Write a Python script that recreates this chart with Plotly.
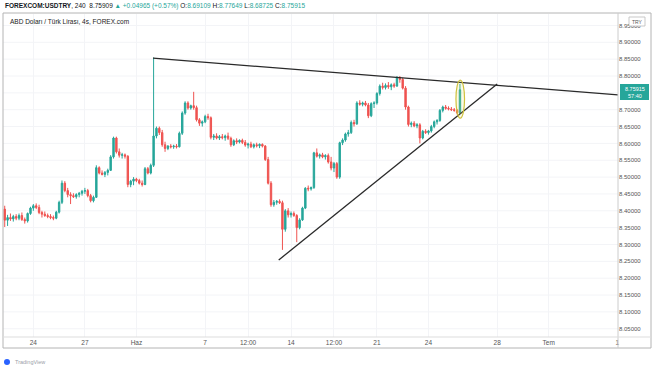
import plotly.graph_objects as go

# ---------------- data ----------------
bar_index = list(range(-10, 150))

opens = [
    8.405, 8.372, 8.380, 8.376, 8.383, 8.378, 8.386, 8.374, 8.370, 8.392,
    8.408, 8.415, 8.410, 8.395, 8.390, 8.386, 8.383, 8.380, 8.378, 8.396,
    8.425, 8.482, 8.460, 8.448, 8.445, 8.442, 8.448, 8.452, 8.458, 8.460,
    8.445, 8.430, 8.440, 8.528, 8.512, 8.508, 8.514, 8.520, 8.560, 8.616,
    8.575, 8.565, 8.566, 8.562, 8.478, 8.488, 8.494, 8.490, 8.482, 8.478,
    8.525, 8.512, 8.535, 8.622, 8.645, 8.632, 8.596, 8.585, 8.592, 8.590,
    8.592, 8.590, 8.630, 8.690, 8.720, 8.705, 8.712, 8.706, 8.670, 8.660,
    8.664, 8.680, 8.676, 8.618, 8.622, 8.616, 8.620, 8.617, 8.622, 8.615,
    8.596, 8.608, 8.604, 8.609, 8.603, 8.595, 8.598, 8.590, 8.596, 8.593,
    8.597, 8.592, 8.552, 8.482, 8.418, 8.425, 8.428, 8.424, 8.345, 8.400,
    8.388, 8.392, 8.386, 8.350, 8.373, 8.408, 8.467, 8.465, 8.469, 8.572,
    8.562, 8.566, 8.560, 8.564, 8.545, 8.527, 8.540, 8.500, 8.602, 8.610,
    8.628, 8.632, 8.662, 8.658, 8.720, 8.716, 8.720, 8.714, 8.682, 8.718,
    8.720, 8.748, 8.770, 8.766, 8.772, 8.768, 8.774, 8.770, 8.795, 8.790,
    8.764, 8.708, 8.656, 8.660, 8.652, 8.655, 8.616, 8.636, 8.632, 8.637,
    8.650, 8.664, 8.668, 8.698, 8.708, 8.704, 8.702, 8.700, 8.698, 8.69109,
]
highs = [
    8.415, 8.388, 8.392, 8.388, 8.390, 8.392, 8.395, 8.380, 8.395, 8.412,
    8.420, 8.422, 8.418, 8.400, 8.398, 8.392, 8.390, 8.386, 8.400, 8.430,
    8.490, 8.488, 8.468, 8.455, 8.452, 8.452, 8.456, 8.462, 8.468, 8.465,
    8.450, 8.445, 8.535, 8.532, 8.520, 8.518, 8.525, 8.565, 8.620, 8.620,
    8.585, 8.572, 8.570, 8.565, 8.492, 8.500, 8.498, 8.495, 8.490, 8.530,
    8.530, 8.540, 8.855, 8.650, 8.650, 8.640, 8.605, 8.595, 8.598, 8.596,
    8.598, 8.635, 8.695, 8.725, 8.725, 8.715, 8.753, 8.712, 8.675, 8.668,
    8.685, 8.688, 8.680, 8.628, 8.630, 8.625, 8.628, 8.626, 8.632, 8.620,
    8.612, 8.615, 8.612, 8.614, 8.610, 8.602, 8.605, 8.600, 8.602, 8.600,
    8.600, 8.595, 8.560, 8.488, 8.432, 8.432, 8.434, 8.430, 8.405, 8.408,
    8.398, 8.398, 8.390, 8.378, 8.412, 8.470, 8.475, 8.472, 8.575, 8.585,
    8.570, 8.572, 8.568, 8.570, 8.560, 8.545, 8.545, 8.605, 8.615, 8.632,
    8.640, 8.668, 8.670, 8.725, 8.728, 8.724, 8.726, 8.720, 8.722, 8.725,
    8.752, 8.775, 8.780, 8.778, 8.782, 8.778, 8.780, 8.800, 8.800, 8.795,
    8.770, 8.712, 8.665, 8.666, 8.660, 8.660, 8.640, 8.642, 8.640, 8.655,
    8.668, 8.672, 8.702, 8.712, 8.714, 8.710, 8.708, 8.705, 8.702, 8.77649,
]
lows = [
    8.352, 8.355, 8.370, 8.368, 8.372, 8.372, 8.370, 8.362, 8.365, 8.388,
    8.400, 8.405, 8.390, 8.380, 8.382, 8.378, 8.375, 8.372, 8.375, 8.392,
    8.420, 8.455, 8.440, 8.420, 8.438, 8.436, 8.440, 8.445, 8.450, 8.440,
    8.425, 8.425, 8.438, 8.508, 8.505, 8.500, 8.505, 8.518, 8.555, 8.570,
    8.558, 8.555, 8.555, 8.470, 8.470, 8.476, 8.485, 8.478, 8.472, 8.476,
    8.508, 8.508, 8.530, 8.615, 8.625, 8.590, 8.575, 8.580, 8.585, 8.584,
    8.585, 8.588, 8.625, 8.685, 8.700, 8.700, 8.700, 8.665, 8.652, 8.650,
    8.660, 8.670, 8.612, 8.610, 8.612, 8.610, 8.612, 8.608, 8.610, 8.590,
    8.592, 8.598, 8.600, 8.598, 8.590, 8.585, 8.586, 8.585, 8.588, 8.586,
    8.588, 8.548, 8.478, 8.412, 8.412, 8.418, 8.420, 8.284, 8.338, 8.380,
    8.380, 8.382, 8.307, 8.345, 8.370, 8.405, 8.458, 8.460, 8.465, 8.558,
    8.555, 8.556, 8.552, 8.540, 8.520, 8.515, 8.495, 8.495, 8.595, 8.605,
    8.620, 8.628, 8.650, 8.655, 8.712, 8.710, 8.710, 8.675, 8.678, 8.705,
    8.715, 8.742, 8.760, 8.760, 8.762, 8.758, 8.765, 8.768, 8.780, 8.760,
    8.700, 8.650, 8.648, 8.648, 8.645, 8.600, 8.612, 8.628, 8.626, 8.632,
    8.645, 8.656, 8.664, 8.692, 8.700, 8.698, 8.696, 8.694, 8.686, 8.68725,
]
closes = [
    8.372, 8.380, 8.376, 8.383, 8.378, 8.386, 8.374, 8.370, 8.392, 8.408,
    8.415, 8.410, 8.395, 8.390, 8.386, 8.383, 8.380, 8.378, 8.396, 8.425,
    8.482, 8.460, 8.448, 8.445, 8.442, 8.448, 8.452, 8.458, 8.460, 8.445,
    8.430, 8.440, 8.528, 8.512, 8.508, 8.514, 8.520, 8.560, 8.616, 8.575,
    8.565, 8.566, 8.562, 8.478, 8.488, 8.494, 8.490, 8.482, 8.478, 8.525,
    8.512, 8.535, 8.622, 8.645, 8.632, 8.596, 8.585, 8.592, 8.590, 8.592,
    8.590, 8.630, 8.690, 8.720, 8.705, 8.712, 8.706, 8.670, 8.660, 8.664,
    8.680, 8.676, 8.618, 8.622, 8.616, 8.620, 8.617, 8.622, 8.615, 8.596,
    8.608, 8.604, 8.609, 8.603, 8.595, 8.598, 8.590, 8.596, 8.593, 8.597,
    8.592, 8.552, 8.482, 8.418, 8.425, 8.428, 8.424, 8.345, 8.400, 8.388,
    8.392, 8.386, 8.350, 8.373, 8.408, 8.467, 8.465, 8.469, 8.572, 8.562,
    8.566, 8.560, 8.564, 8.545, 8.527, 8.540, 8.500, 8.602, 8.610, 8.628,
    8.632, 8.662, 8.658, 8.720, 8.716, 8.720, 8.714, 8.682, 8.718, 8.720,
    8.748, 8.770, 8.766, 8.772, 8.768, 8.774, 8.770, 8.795, 8.790, 8.764,
    8.708, 8.656, 8.660, 8.652, 8.655, 8.616, 8.636, 8.632, 8.637, 8.650,
    8.664, 8.668, 8.698, 8.708, 8.704, 8.702, 8.700, 8.698, 8.691, 8.75915,
]

# time-axis labels (bar positions, 6 bars of 4h per trading day)
time_tick_pos = [0, 18, 36, 60, 75, 90, 105, 120, 138, 162, 180, 204]
time_tick_text = ["24", "27", "Haz", "7", "12:00", "14", "12:00", "21", "24", "28", "Tem", "1"]

# price labels visible on the axis (8.75000 is hidden behind the last-price box)
price_ticks = [8.05, 8.10, 8.15, 8.20, 8.25, 8.30, 8.35, 8.40, 8.45, 8.50,
               8.55, 8.60, 8.65, 8.70, 8.80, 8.85, 8.90, 8.95]
price_tick_text = ["%.5f" % v for v in price_ticks]
grid_prices = [8.05, 8.10, 8.15, 8.20, 8.25, 8.30, 8.35, 8.40, 8.45, 8.50,
               8.55, 8.60, 8.65, 8.70, 8.75, 8.80, 8.85, 8.90, 8.95]

# drawn trend lines (bar position, price)
upper_line_x = [41.8, 204.2]
upper_line_y = [8.853, 8.744]
lower_line_x = [85.7, 162.0]
lower_line_y = [8.254, 8.776]

# highlight ellipse around the last candle
ellipse_x = [147.6, 150.6]
ellipse_y = [8.675, 8.788]

last_price = "8.75915"
countdown = "57:40"

# ---------------- figure ----------------
UP, DOWN = "#26a69a", "#ef5350"
X_RANGE = [-10.6, 204.2]
Y_RANGE = [8.0255, 8.984]

L_PX, R_PX, T_PX, B_PX = 3, 618, 14, 337
W, H = 654, 366


def px(x):
    return (x - L_PX) / (R_PX - L_PX)


def py(y):
    return (B_PX - y) / (B_PX - T_PX)


fig = go.Figure()
fig.add_trace(go.Candlestick(
    x=bar_index, open=opens, high=highs, low=lows, close=closes,
    increasing=dict(line=dict(color=UP, width=1), fillcolor=UP),
    decreasing=dict(line=dict(color=DOWN, width=1), fillcolor=DOWN),
    whiskerwidth=0, showlegend=False, hoverinfo="skip",
))
fig.add_trace(go.Scatter(x=upper_line_x, y=upper_line_y, mode="lines",
                         line=dict(color="#2a2a2a", width=1.3), showlegend=False,
                         hoverinfo="skip"))
fig.add_trace(go.Scatter(x=lower_line_x, y=lower_line_y, mode="lines",
                         line=dict(color="#2a2a2a", width=1.3), showlegend=False,
                         hoverinfo="skip"))

shapes = [
    # highlight ellipse
    dict(type="circle", xref="x", yref="y", x0=ellipse_x[0], x1=ellipse_x[1],
         y0=ellipse_y[0], y1=ellipse_y[1], line=dict(color="#cfc13c", width=1.2),
         fillcolor="rgba(230,220,90,0.15)"),
    # outer frame
    dict(type="rect", xref="paper", yref="paper", x0=px(3), x1=px(651),
         y0=py(348), y1=py(13), line=dict(color="#b4b4b4", width=1), layer="above"),
    # price-axis separator
    dict(type="line", xref="paper", yref="paper", x0=px(618), x1=px(618),
         y0=py(348), y1=py(13), line=dict(color="#cccccc", width=1), layer="above"),
    # time-axis top line
    dict(type="line", xref="paper", yref="paper", x0=px(3), x1=px(651),
         y0=py(337), y1=py(337), line=dict(color="#dddddd", width=1), layer="above"),
    # last price box
    dict(type="rect", xref="paper", yref="paper", x0=px(620), x1=px(649),
         y0=py(100), y1=py(84), line=dict(color=UP, width=0), fillcolor=UP, layer="above"),
    # TRY box
    dict(type="rect", xref="paper", yref="paper", x0=px(629), x1=px(645),
         y0=py(26), y1=py(17), line=dict(color="#bbbbbb", width=0.8),
         fillcolor="white", layer="above"),
    # logo dot
    dict(type="circle", xref="paper", yref="paper", x0=px(4), x1=px(10),
         y0=py(365), y1=py(359), line=dict(width=0), fillcolor="#2962ff", layer="above"),
]
for gp in grid_prices:
    shapes.append(dict(type="line", xref="paper", yref="y", x0=0, x1=1, y0=gp, y1=gp,
                       line=dict(color="#f3f4f7", width=1), layer="below"))

FONT = "Liberation Sans, Arial, sans-serif"
annotations = [
    dict(xref="paper", yref="paper", x=px(3), y=py(6), xanchor="left", yanchor="middle",
         showarrow=False, font=dict(size=6.5, color="#131722", family=FONT),
         text=("<b>FOREXCOM:USDTRY</b>, 240  8.75909 <span style='color:#26a69a'>▲ +0.04965 (+0.57%)</span> "
               "O:<span style='color:#26a69a'>8.69109</span> H:<span style='color:#26a69a'>8.77649</span> "
               "L:<span style='color:#26a69a'>8.68725</span> C:<span style='color:#26a69a'>8.75915</span>")),
    dict(xref="paper", yref="paper", x=px(8), y=py(22), xanchor="left", yanchor="middle",
         showarrow=False, font=dict(size=6.5, color="#222222", family=FONT),
         text="ABD Doları / Türk Lirası, 4s, FOREX.com"),
    dict(xref="paper", yref="paper", x=px(634.5), y=py(92), xanchor="center", yanchor="middle",
         showarrow=False, font=dict(size=5.5, color="white", family=FONT),
         text=last_price + "<br>" + countdown),
    dict(xref="paper", yref="paper", x=px(637), y=py(21.5), xanchor="center", yanchor="middle",
         showarrow=False, font=dict(size=5, color="#555555", family=FONT), text="TRY"),
    dict(xref="paper", yref="paper", x=px(13), y=py(362), xanchor="left", yanchor="middle",
         showarrow=False, font=dict(size=5.5, color="#9aa0a8", family=FONT), text="TradingView"),
]

fig.update_layout(
    width=W, height=H,
    margin=dict(l=L_PX, r=W - R_PX, t=T_PX, b=H - B_PX, pad=0),
    paper_bgcolor="white", plot_bgcolor="white",
    font=dict(family=FONT, size=6.5, color="#555555"),
    showlegend=False,
    shapes=shapes, annotations=annotations,
    xaxis=dict(range=X_RANGE, rangeslider=dict(visible=False), tickmode="array",
               tickvals=time_tick_pos, ticktext=time_tick_text, showgrid=True,
               gridcolor="#f3f4f7", gridwidth=1, zeroline=False, showline=False,
               ticks="", tickfont=dict(size=6.5, color="#555555")),
    yaxis=dict(range=Y_RANGE, side="right", tickmode="array", tickvals=price_ticks,
               ticktext=price_tick_text, showgrid=False,
               zeroline=False, showline=False, ticks="",
               tickfont=dict(size=6, color="#555555")),
)

fig.write_html("out.html",
               config={"displayModeBar": False, "staticPlot": True},
               post_script="document.body.style.margin='0px';document.body.style.overflow='hidden';")
